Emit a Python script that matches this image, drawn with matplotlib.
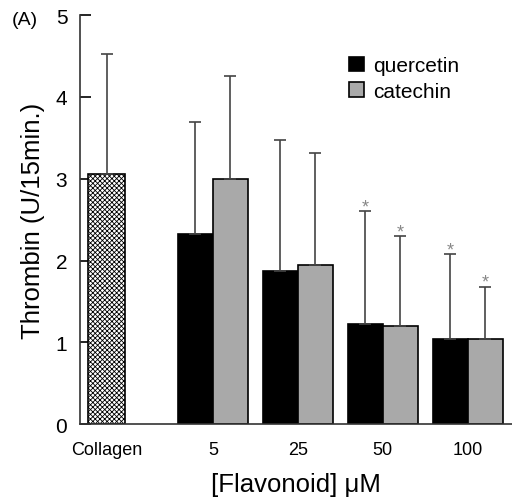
import matplotlib.pyplot as plt
import numpy as np

plt.rcParams["font.family"] = ["Liberation Sans", "DejaVu Sans"]
plt.rcParams["hatch.linewidth"] = 0.6
plt.rcParams["hatch.color"] = "#555555"

groups = ["5", "25", "50", "100"]
quercetin = [2.32, 1.87, 1.23, 1.04]
quercetin_sd = [1.37, 1.60, 1.37, 1.04]
catechin = [3.00, 1.94, 1.20, 1.04]
catechin_sd = [1.25, 1.37, 1.10, 0.64]
collagen = 3.06
collagen_sd = 1.46
signif = [False, False, True, True]

fig = plt.figure(figsize=(5.12, 5.02), dpi=100)
ax = fig.add_axes([0.156, 0.153, 0.844, 0.815])

x = np.arange(len(groups))
w = 0.41
x_col = -1.25

err_kw = dict(ecolor="#444444", elinewidth=1.2, capsize=4, capthick=1.2)

ax.bar(x_col, collagen, w + 0.03, color="white", edgecolor="black",
       linewidth=1.2, hatch="xxxxxxx", zorder=2)
ax.errorbar(x_col, collagen, yerr=[[0], [collagen_sd]], fmt="none", **err_kw)

ax.bar(x - w / 2, quercetin, w, color="black", edgecolor="black",
       linewidth=1.2, label="quercetin", zorder=2)
ax.bar(x + w / 2, catechin, w, color="#a9a9a9", edgecolor="black",
       linewidth=1.2, label="catechin", zorder=2)
ax.errorbar(x - w / 2, quercetin, yerr=[np.zeros(4), quercetin_sd],
            fmt="none", **err_kw)
ax.errorbar(x + w / 2, catechin, yerr=[np.zeros(4), catechin_sd],
            fmt="none", **err_kw)

# significance marks
for i, s in enumerate(signif):
    if not s:
        continue
    for xx, top in [(x[i] - w / 2, quercetin[i] + quercetin_sd[i]),
                    (x[i] + w / 2, catechin[i] + catechin_sd[i])]:
        ax.annotate("*", (xx, top), xytext=(0, -3), textcoords="offset points",
                    ha="center", va="bottom", fontsize=13, color="#888888")

ax.set_xlim(-1.565, 3.52)
ax.set_ylim(0, 5)
ax.set_yticks([0, 1, 2, 3, 4, 5])
ax.set_xticks([x_col] + list(x))
ax.set_xticklabels(["Collagen"] + groups, fontsize=13)
ax.tick_params(axis="x", length=0, pad=12)
ax.tick_params(axis="y", direction="in", length=8, width=1.2, labelsize=15, pad=9)
for side in ["top", "right"]:
    ax.spines[side].set_visible(False)
for side in ["left", "bottom"]:
    ax.spines[side].set_linewidth(1.2)
    ax.spines[side].set_color("#333333")

ax.set_ylabel("Thrombin (U/15min.)", fontsize=18.5, labelpad=8)
ax.set_xlabel("[Flavonoid] μM", fontsize=18.5, labelpad=10)
ax.legend(loc="upper left", bbox_to_anchor=(0.58, 0.945), frameon=False,
          fontsize=15, handlelength=0.7, handleheight=0.7, handletextpad=0.45,
          labelspacing=0.3)

fig.text(0.022, 1 - 12 / 502, "(A)", fontsize=14, va="top")

fig.savefig("out.png", dpi=100)
